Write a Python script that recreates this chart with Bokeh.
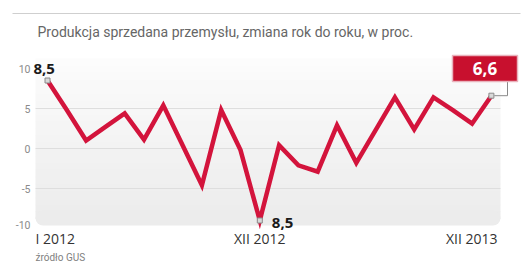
from bokeh.plotting import figure
from bokeh.models import Range1d, Label, ColumnDataSource
from bokeh.core.properties import value
from bokeh.embed import file_html
from bokeh.resources import INLINE

# ---- data ----
months = ["I 2012", "II 2012", "III 2012", "IV 2012", "V 2012", "VI 2012", "VII 2012",
          "VIII 2012", "IX 2012", "X 2012", "XI 2012", "XII 2012",
          "I 2013", "II 2013", "III 2013", "IV 2013", "V 2013", "VI 2013", "VII 2013",
          "VIII 2013", "IX 2013", "X 2013", "XI 2013", "XII 2013"]
values = [8.5, 4.8, 1.0, 2.7, 4.4, 1.1, 5.4, 0.4, -4.6, 4.8, -0.2, -9.0,
          0.4, -2.1, -2.9, 2.9, -1.8, 2.3, 6.4, 2.4, 6.4, 4.8, 3.1, 6.6]
y_ticks = [10, 5, 0, -5, -10]
y_tick_labels = ["10", "5", "0", "-5", "-10"]
x_label_months = ["I 2012", "XII 2012", "XII 2013"]
title = "Produkcja sprzedana przemysłu, zmiana rok do roku, w proc."
source_note = "źródło GUS"
first_label = "8,5"
min_label = "8,5"
last_label = "6,6"

W, H = 526, 273
X0, DX = 47.0, 19.3   # pixel of first month, pixel per month
Y0, DY = 148.0, 8.0   # pixel of zero, pixel per unit


def X(px):
    return (px - X0) / DX


def Y(py):
    return (Y0 - py) / DY


xs = list(range(len(values)))

p = figure(width=W, height=H, output_backend="svg", toolbar_location=None,
           x_range=Range1d(X(0), X(W)), y_range=Range1d(Y(H), Y(0)),
           min_border=0)
p.axis.visible = False
p.grid.visible = False
p.outline_line_color = None
p.background_fill_color = "white"
p.border_fill_color = "white"

# top rule
p.line([X(12), X(520)], [Y(13), Y(13)], line_color="#cfcfcf", line_width=1)

# plot background (vertical gradient, rounded bottom)
top_px, bot_px, n = 58, 225, 24
c0, c1 = (252, 252, 252), (236, 236, 236)
for i in range(n):
    t = i / (n - 1)
    col = tuple(int(c0[k] + (c1[k] - c0[k]) * t) for k in range(3))
    y_a = top_px + (bot_px - top_px) * i / n
    y_b = top_px + (bot_px - top_px) * (i + 1) / n
    if i == n - 1:
        p.quad(left=X(35), right=X(500), top=Y(y_a - 8), bottom=Y(y_b),
               fill_color="#%02x%02x%02x" % col, line_color=None, border_radius=8)
    else:
        p.quad(left=X(35), right=X(500), top=Y(y_a), bottom=Y(y_b + 0.5),
               fill_color="#%02x%02x%02x" % col, line_color=None)

# gridlines
grid_vals = [v for v in y_ticks if abs(v) < 10]
p.segment(x0=[X(35)] * len(grid_vals), x1=[X(500)] * len(grid_vals),
          y0=grid_vals, y1=grid_vals, line_color="#dedede", line_width=1)

# y tick labels
tick_y = [v + (0.5 if v == -10 else 0) for v in y_ticks]
p.text(x=[X(30)] * len(y_ticks), y=tick_y, text=y_tick_labels,
       text_align="right", text_baseline="middle", text_font=value("Roboto"),
       text_font_size="10.5px", text_color="#8a8a8a")

# series line
src = ColumnDataSource(dict(x=xs, y=values, m=months))
p.line("x", "y", source=src, line_color="#d3143c", line_width=4.5,
       line_join="miter")

# highlighted point markers
imin = values.index(min(values))
hl = [0, imin, len(values) - 1]
p.scatter([xs[i] for i in hl], [values[i] for i in hl], marker="square", size=5,
          fill_color="#d8d8d8", line_color="#8a8a8a", line_width=1)

# value annotations
p.add_layout(Label(x=xs[0], y=values[0], text=first_label, x_offset=-14, y_offset=7,
                   text_font="Open Sans", text_font_style="bold", text_font_size="15px",
                   text_color="#1a1a1a", text_baseline="bottom"))
p.add_layout(Label(x=xs[imin], y=values[imin], text=min_label, x_offset=12, y_offset=-2,
                   text_font="Open Sans", text_font_style="bold", text_font_size="15px",
                   text_color="#1a1a1a", text_baseline="middle"))

# last value box with connector
last_x, last_y = xs[-1], values[-1]
p.line([last_x + 0.15, X(507), X(507)], [last_y, last_y, Y(81)],
       line_color="#8a8a8a", line_width=1)
p.quad(left=X(452), right=X(517), top=Y(55), bottom=Y(81),
       fill_color="#c8102e", line_color="#e9b3bd", line_width=1.5)
p.text(x=[X(484.5)], y=[Y(68)], text=[last_label], text_align="center",
       text_baseline="middle", text_font=value("Open Sans"), text_font_style="bold",
       text_font_size="17px", text_color="white")

# x labels
lx = [months.index(m) for m in x_label_months]
aligns = ["left", "center", "right"]
offs = [X(35) - lx[0], 0, X(497) - lx[2]]
for i, m in enumerate(x_label_months):
    p.text(x=[lx[i] + offs[i]], y=[Y(238)], text=[m], text_align=aligns[i],
           text_baseline="middle", text_font=value("Open Sans"),
           text_font_size="14px", text_color="#333333")

# title and source
p.text(x=[X(37)], y=[Y(31)], text=[title], text_align="left", text_baseline="middle",
       text_font=value("Roboto"), text_font_style="normal", text_font_size="14px",
       text_color="#666666")
p.text(x=[X(35)], y=[Y(257)], text=[source_note], text_align="left",
       text_baseline="middle", text_font=value("Roboto"), text_font_size="10px",
       text_color="#808080")

open("out.html", "w").write(file_html(p, INLINE))
